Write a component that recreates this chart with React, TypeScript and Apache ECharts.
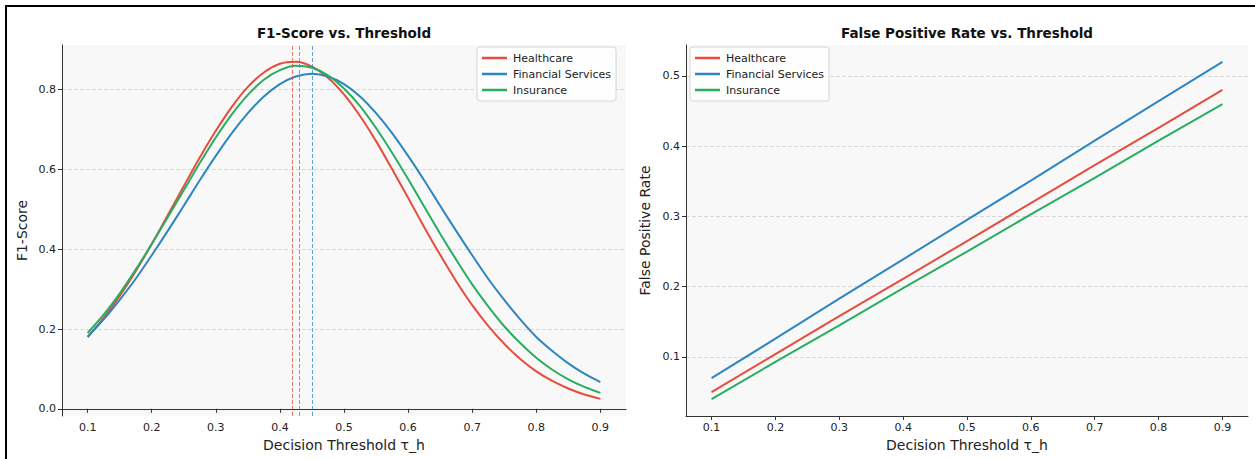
import React, { useEffect, useRef } from "react";
import * as echarts from "echarts";

const seriesNames = ["Healthcare", "Financial Services", "Insurance"];
const seriesColors = ["#e74c3c", "#2e86c1", "#27ae60"];

const thresholds = [
  0.1, 0.125, 0.15, 0.175, 0.2, 0.225, 0.25, 0.275, 0.3, 0.325, 0.35, 0.375, 0.4, 0.425, 0.45, 0.475, 0.5,
  0.525, 0.55, 0.575, 0.6, 0.625, 0.65, 0.675, 0.7, 0.725, 0.75, 0.775, 0.8, 0.825, 0.85, 0.875, 0.9,
];
const f1Healthcare = [
  0.18, 0.228, 0.283, 0.345, 0.413, 0.485, 0.558, 0.63, 0.697, 0.757, 0.807, 0.843, 0.865, 0.87, 0.858, 0.83, 0.788,
  0.734, 0.671, 0.601, 0.529, 0.456, 0.386, 0.32, 0.26, 0.208, 0.163, 0.125, 0.094, 0.07, 0.051, 0.036, 0.025,
];
const f1Financial = [
  0.18, 0.224, 0.273, 0.326, 0.385, 0.446, 0.509, 0.573, 0.634, 0.691, 0.741, 0.783, 0.814, 0.833, 0.84, 0.833, 0.814,
  0.783, 0.741, 0.691, 0.634, 0.573, 0.509, 0.446, 0.385, 0.326, 0.273, 0.224, 0.18, 0.145, 0.114, 0.088, 0.067,
];
const f1Insurance = [
  0.19, 0.236, 0.289, 0.349, 0.413, 0.48, 0.548, 0.616, 0.68, 0.738, 0.787, 0.825, 0.849, 0.86, 0.855, 0.836, 0.803,
  0.759, 0.704, 0.642, 0.576, 0.507, 0.439, 0.374, 0.312, 0.257, 0.207, 0.165, 0.128, 0.098, 0.074, 0.055, 0.04,
];

const fprThresholds = [0.1, 0.2, 0.3, 0.4, 0.5, 0.6, 0.7, 0.8, 0.9];
const fprHealthcare = [0.05, 0.104, 0.158, 0.211, 0.265, 0.319, 0.373, 0.426, 0.48];
const fprFinancial = [0.07, 0.126, 0.183, 0.239, 0.295, 0.351, 0.408, 0.464, 0.52];
const fprInsurance = [0.04, 0.093, 0.145, 0.198, 0.25, 0.303, 0.355, 0.408, 0.46];

const optimalThresholds = [0.42, 0.45, 0.43];

const xTicks = [0.1, 0.2, 0.3, 0.4, 0.5, 0.6, 0.7, 0.8, 0.9];
const f1Ticks = [0.0, 0.2, 0.4, 0.6, 0.8];
const fprTicks = [0.1, 0.2, 0.3, 0.4, 0.5];

const FONT = "DejaVu Sans";

function zip(xs: number[], ys: number[]) {
  return xs.map((x, i) => [x, ys[i]]);
}

export default function App() {
  const ref = useRef<HTMLDivElement>(null);
  useEffect(() => {
    document.body.style.margin = "0";
    const chart = echarts.init(ref.current!, null, { renderer: "svg" });

    const axisCommon = {
      axisLine: { show: true, lineStyle: { color: "#333", width: 1 } },
      axisTick: { show: true, length: 4, lineStyle: { color: "#333", width: 1 } },
      axisLabel: { color: "#222", fontSize: 11, fontFamily: FONT },
      nameTextStyle: { color: "#222", fontSize: 14, fontFamily: FONT },
    };

    const xAxisDef = (gridIndex: number) => ({
      type: "value",
      gridIndex,
      min: 0.06,
      max: 0.94,
      name: "Decision Threshold τ_h",
      nameLocation: "middle",
      nameGap: 22,
      ...axisCommon,
      axisTick: { ...axisCommon.axisTick, customValues: xTicks },
      axisLabel: { ...axisCommon.axisLabel, customValues: xTicks, margin: 6, formatter: (v: number) => v.toFixed(1) },
      splitLine: { show: false },
    });

    const yAxisDef = (gridIndex: number, min: number, max: number, ticks: number[], name: string, gap: number) => ({
      type: "value",
      gridIndex,
      min,
      max,
      name,
      nameLocation: "middle",
      nameGap: gap,
      ...axisCommon,
      axisTick: { ...axisCommon.axisTick, customValues: ticks },
      axisLabel: { ...axisCommon.axisLabel, customValues: ticks, margin: 6, formatter: (v: number) => v.toFixed(1) },
      splitLine: { show: true, lineStyle: { color: "#d0d0d0", width: 0.8, type: [4, 2] } },
    });

    const f1Data = [f1Healthcare, f1Financial, f1Insurance];
    const fprData = [fprHealthcare, fprFinancial, fprInsurance];

    const f1Series = seriesNames.map((name, i) => ({
      type: "line",
      name,
      xAxisIndex: 0,
      yAxisIndex: 0,
      data: zip(thresholds, f1Data[i]),
      smooth: 0.3,
      showSymbol: false,
      lineStyle: { color: seriesColors[i], width: 2 },
      itemStyle: { color: seriesColors[i] },
      z: 3,
      markLine: {
        silent: true,
        symbol: ["none", "none"],
        label: { show: false },
        lineStyle: { color: seriesColors[i], type: [4, 2], width: 1, opacity: 0.75 },
        data: [{ xAxis: optimalThresholds[i] }],
      },
    }));

    const fprSeries = seriesNames.map((name, i) => ({
      type: "line",
      name,
      xAxisIndex: 1,
      yAxisIndex: 1,
      data: zip(fprThresholds, fprData[i]),
      showSymbol: false,
      lineStyle: { color: seriesColors[i], width: 2 },
      itemStyle: { color: seriesColors[i] },
    }));

    const legendDef = (left: number) => ({
      data: seriesNames,
      orient: "vertical",
      left,
      top: 47,
      icon: "rect",
      itemWidth: 25,
      itemHeight: 2.5,
      itemGap: 2,
      padding: [4, 5, 4, 5],
      backgroundColor: "rgba(255,255,255,0.85)",
      borderColor: "#d6d6d6",
      borderWidth: 1,
      borderRadius: 3,
      textStyle: { fontSize: 11, fontFamily: FONT, color: "#222", lineHeight: 14, padding: [0, 0, 0, 1] },
      selectedMode: false,
    });

    chart.setOption({
      animation: false,
      backgroundColor: "#ffffff",
      title: [
        {
          text: "F1-Score vs. Threshold",
          left: 339,
          top: 21,
          textAlign: "center",
          textStyle: { fontSize: 13.5, fontWeight: "bold", fontFamily: FONT, color: "#111" },
        },
        {
          text: "False Positive Rate vs. Threshold",
          left: 962,
          top: 21,
          textAlign: "center",
          textStyle: { fontSize: 13.5, fontWeight: "bold", fontFamily: FONT, color: "#111" },
        },
      ],
      grid: [
        { left: 62, top: 45, width: 564, height: 371, show: true, backgroundColor: "#f8f8f8", borderWidth: 0 },
        { left: 686, top: 45, width: 562, height: 371, show: true, backgroundColor: "#f8f8f8", borderWidth: 0 },
      ],
      xAxis: [xAxisDef(0), xAxisDef(1)],
      yAxis: [
        yAxisDef(0, -0.018, 0.912, f1Ticks, "F1-Score", 33),
        yAxisDef(1, 0.016, 0.544, fprTicks, "False Positive Rate", 34),
      ],
      legend: [legendDef(477), legendDef(690)],
      series: [...f1Series, ...fprSeries],
      graphic: [
        {
          type: "rect",
          shape: { x: 6, y: 6, width: 1400, height: 600 },
          style: { fill: "none", stroke: "#000", lineWidth: 2 },
          silent: true,
          z: 100,
        },
      ],
    });
    return () => chart.dispose();
  }, []);
  return <div ref={ref} style={{ position: "absolute", left: 0, top: 0, width: 1255, height: 459 }} />;
}
